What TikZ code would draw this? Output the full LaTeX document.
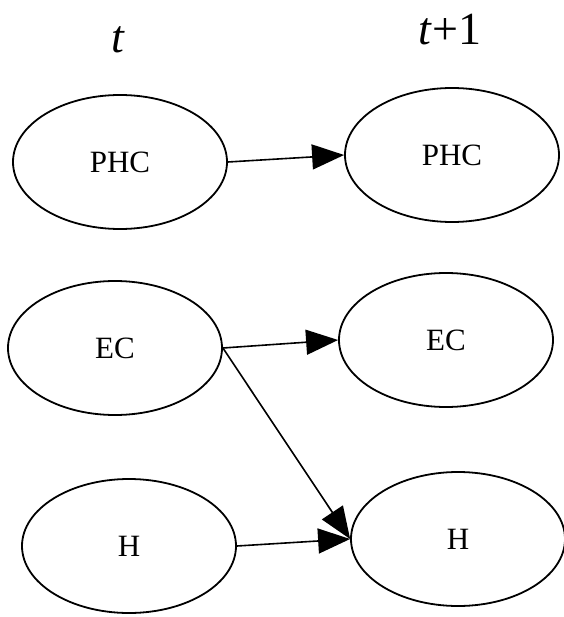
\documentclass[tikz,border=0pt]{standalone}
\usepackage{fontspec}
\setmainfont{Liberation Serif}
\usetikzlibrary{shapes.geometric,arrows.meta}
\begin{document}
\begin{tikzpicture}[x=1pt,y=-1pt,
  state/.style={draw, ellipse, line width=1.8pt, minimum width=214pt, minimum height=134pt, inner sep=0pt, font=\fontsize{31}{31}\selectfont},
  lbl/.style={anchor=base, inner sep=0pt, font=\fontsize{46}{46}\selectfont},
  arr/.style={line width=1.6pt, -{Triangle[length=32pt,width=25pt]}, shorten <=-1pt}]
\useasboundingbox (0,0) rectangle (563,617);
\node[lbl] (tl) at (118,53) {\textit{t}};
\node[lbl] (tr) at (450,45) {\textit{t}+1};
\node[state] (phc1) at (120,162) {PHC};
\node[state] (phc2) at (452,155) {PHC};
\node[state] (ec1) at (115,348) {EC};
\node[state] (ec2) at (446,340) {EC};
\node[state] (h1) at (129,546) {H};
\node[state] (h2) at (458,539) {H};
\draw[arr] (phc1.east) -- (phc2.west);
\draw[arr] (ec1.east) -- (ec2.west);
\draw[arr] (ec1.east) -- (h2.west);
\draw[arr] (h1.east) -- (h2.west);
\end{tikzpicture}
\end{document}
